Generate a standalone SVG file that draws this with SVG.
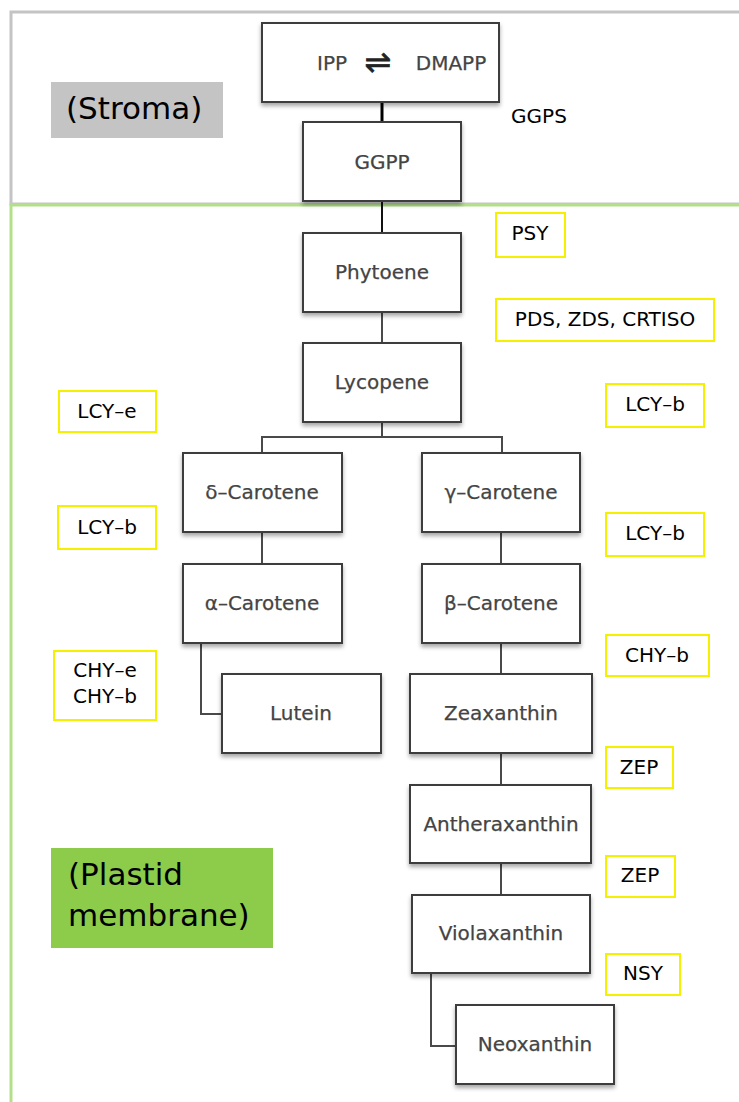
<svg xmlns="http://www.w3.org/2000/svg" width="739" height="1102" viewBox="0 0 739 1102">
<defs>
<filter id="sh" x="-10%" y="-10%" width="120%" height="130%">
<feDropShadow dx="0" dy="3" stdDeviation="2" flood-color="#000" flood-opacity="0.35"/>
</filter>
<style>
.node rect{fill:#fff;stroke:#3c3c3c;stroke-width:2;filter:url(#sh)}
.node text{font-family:"DejaVu Sans",sans-serif;font-size:20px;fill:#444;text-anchor:middle;stroke:#444;stroke-width:0.25}
.lab rect{fill:none;stroke:#f5f000;stroke-width:2}
.lab text{font-family:"DejaVu Sans",sans-serif;font-size:20px;fill:#000;text-anchor:middle}
.conn path{fill:none;stroke:#4a4a4a;stroke-width:2}
.region{font-family:"DejaVu Sans",sans-serif;font-size:31px;fill:#000}
</style>
</defs>
<rect width="739" height="1102" fill="#fff"/>
<g id="regions">
<rect x="11" y="12" width="740" height="192" fill="none" stroke="#c4c4c4" stroke-width="3"/>
<rect x="11" y="205" width="740" height="910" fill="none" stroke="#b3df8a" stroke-width="3"/>
<rect x="51" y="82" width="172" height="56" fill="#c4c4c4"/>
<text class="region" x="66" y="119">(Stroma)</text>
<rect x="51" y="848" width="222" height="100" fill="#8dcb4b"/>
<text class="region" x="68" y="885">(Plastid</text>
<text class="region" x="68" y="926">membrane)</text>
</g>
<g class="conn" id="connectors">
<path d="M382 102V122" style="stroke:#000;stroke-width:3"/>
<path d="M382 201V233" style="stroke:#111"/>
<path d="M382 312V343"/>
<path d="M382 422V437M262 453V437H502V453"/>
<path d="M262 532V564"/>
<path d="M501 532V564"/>
<path d="M201 643V714H222"/>
<path d="M501 643V674"/>
<path d="M501 753V785"/>
<path d="M501 863V895"/>
<path d="M431 973V1046H456"/>
</g>
<g class="node" id="ipp"><rect x="262" y="23" width="237" height="79"/><text x="332" y="70">IPP</text><text x="451" y="70">DMAPP</text><text x="378" y="73" style="font-size:32px;fill:#222;stroke:#222;stroke-width:0.6">⇌</text></g>
<g class="node" id="ggpp"><rect x="303" y="122" width="158" height="79"/><text x="382" y="169">GGPP</text></g>
<g class="node" id="phytoene"><rect x="303" y="233" width="158" height="79"/><text x="382" y="279">Phytoene</text></g>
<g class="node" id="lycopene"><rect x="303" y="343" width="158" height="79"/><text x="382" y="389">Lycopene</text></g>
<g class="node" id="dcar"><rect x="183" y="453" width="159" height="79"/><text x="262" y="499">δ–Carotene</text></g>
<g class="node" id="gcar"><rect x="422" y="453" width="158" height="79"/><text x="501" y="499">γ–Carotene</text></g>
<g class="node" id="acar"><rect x="183" y="564" width="159" height="79"/><text x="262" y="610">α–Carotene</text></g>
<g class="node" id="bcar"><rect x="422" y="564" width="158" height="79"/><text x="501" y="610">β–Carotene</text></g>
<g class="node" id="lutein"><rect x="222" y="674" width="159" height="79"/><text x="301" y="720">Lutein</text></g>
<g class="node" id="zea"><rect x="410" y="674" width="182" height="79"/><text x="501" y="720">Zeaxanthin</text></g>
<g class="node" id="anth"><rect x="410" y="785" width="181" height="78"/><text x="501" y="831">Antheraxanthin</text></g>
<g class="node" id="viola"><rect x="412" y="895" width="178" height="78"/><text x="501" y="940">Violaxanthin</text></g>
<g class="node" id="neo"><rect x="456" y="1005" width="158" height="79"/><text x="535" y="1051">Neoxanthin</text></g>
<g class="lab" id="ggps"><text x="539" y="123">GGPS</text></g>
<g class="lab" id="psy"><rect x="496" y="213" width="69" height="44"/><text x="530" y="240">PSY</text></g>
<g class="lab" id="pds"><rect x="496" y="299" width="218" height="42"/><text x="605" y="326">PDS, ZDS, CRTISO</text></g>
<g class="lab" id="lcye"><rect x="59" y="391" width="97" height="41"/><text x="107" y="418">LCY–e</text></g>
<g class="lab" id="lcyb1"><rect x="606" y="384" width="98" height="43"/><text x="655" y="411">LCY–b</text></g>
<g class="lab" id="lcyb2"><rect x="58" y="506" width="98" height="43"/><text x="107" y="534">LCY–b</text></g>
<g class="lab" id="lcyb3"><rect x="606" y="513" width="98" height="43"/><text x="655" y="540">LCY–b</text></g>
<g class="lab" id="chy"><rect x="54" y="651" width="102" height="69"/><text x="105" y="677">CHY–e</text><text x="105" y="703">CHY–b</text></g>
<g class="lab" id="chyb"><rect x="606" y="635" width="103" height="41"/><text x="657" y="662">CHY–b</text></g>
<g class="lab" id="zep1"><rect x="606" y="747" width="67" height="41"/><text x="639" y="774">ZEP</text></g>
<g class="lab" id="zep2"><rect x="606" y="856" width="69" height="41"/><text x="640" y="882">ZEP</text></g>
<g class="lab" id="nsy"><rect x="606" y="954" width="74" height="41"/><text x="643" y="980">NSY</text></g>
</svg>
